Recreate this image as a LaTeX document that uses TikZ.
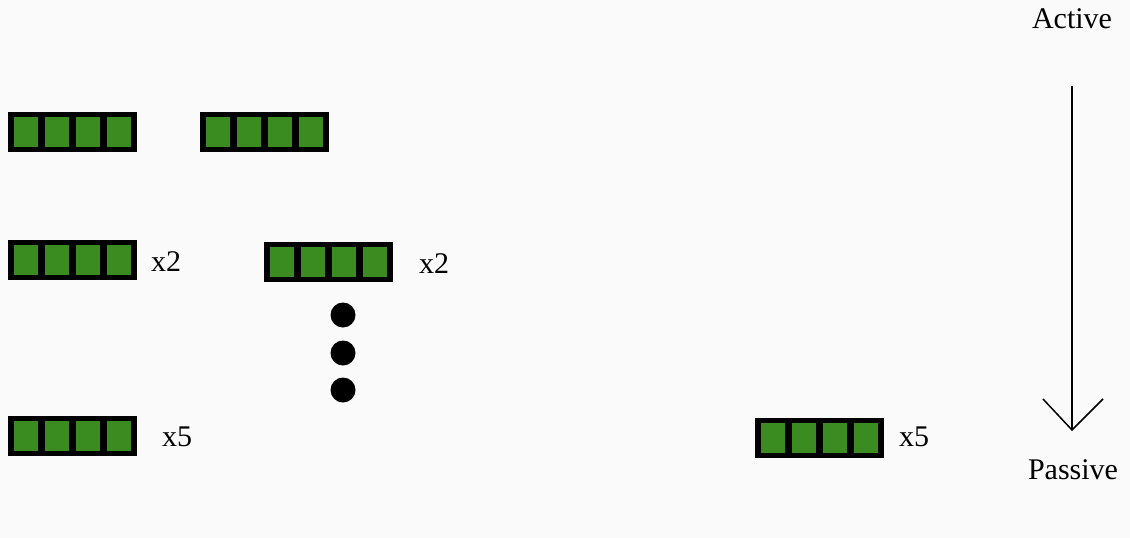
\documentclass[tikz,border=0pt]{standalone}
\usepackage{fontspec}
\setmainfont{Liberation Serif}
\definecolor{cellgreen}{RGB}{58,140,32}
\tikzset{
  bar/.style={fill=black, draw=none, minimum width=129pt, minimum height=40pt, inner sep=0pt, outer sep=0pt},
  cell/.style={fill=cellgreen, draw=none, minimum width=24pt, minimum height=30pt, inner sep=0pt},
  lbl/.style={font=\fontsize{30}{34}\selectfont, inner sep=0pt, anchor=west},
  dot/.style={circle, fill=black, minimum size=25pt, inner sep=0pt},
  pics/greenbar/.style={code={
    \node[bar] (-b) at (0,0) {};
    \foreach \i in {0,1,2,3} {
      \node[cell] (-c\i) at ({-46.5+\i*31},0) {};
    }
  }}
}
\begin{document}
\begin{tikzpicture}[x=1pt,y=-1pt]
\useasboundingbox (0,0) rectangle (1130,538);
\fill[white!98!black] (0,0) rectangle (1130,538);
% row 1
\pic (b1) at (72.5,132) {greenbar};
\pic (b2) at (264.5,132) {greenbar};
% row 2
\pic (b3) at (72.5,259.5) {greenbar};
\node[lbl] (t3) at (151,262) {x2};
\pic (b4) at (328,262) {greenbar};
\node[lbl] (t4) at (419,264) {x2};
% dots
\node[dot] (d1) at (343,315) {};
\node[dot] (d2) at (343,353) {};
\node[dot] (d3) at (343,390) {};
% row 3
\pic (b5) at (72.5,436) {greenbar};
\node[lbl] (t5) at (162,437) {x5};
\pic (b6) at (819.5,438) {greenbar};
\node[lbl] (t6) at (899,437) {x5};
% arrow
\node[font=\fontsize{30}{34}\selectfont, inner sep=0pt] (act) at (1072,19) {Active};
\node[font=\fontsize{30}{34}\selectfont, inner sep=0pt] (pas) at (1073,470) {Passive};
\coordinate (atop) at (1072,86);
\coordinate (atip) at (1072,430);
\coordinate (al) at (1043,399);
\coordinate (ar) at (1103,399);
\draw[line width=1.5pt] (atop) -- (atip);
\draw[line width=1.5pt, line join=miter] (al) -- (atip) -- (ar);
\end{tikzpicture}
\end{document}
